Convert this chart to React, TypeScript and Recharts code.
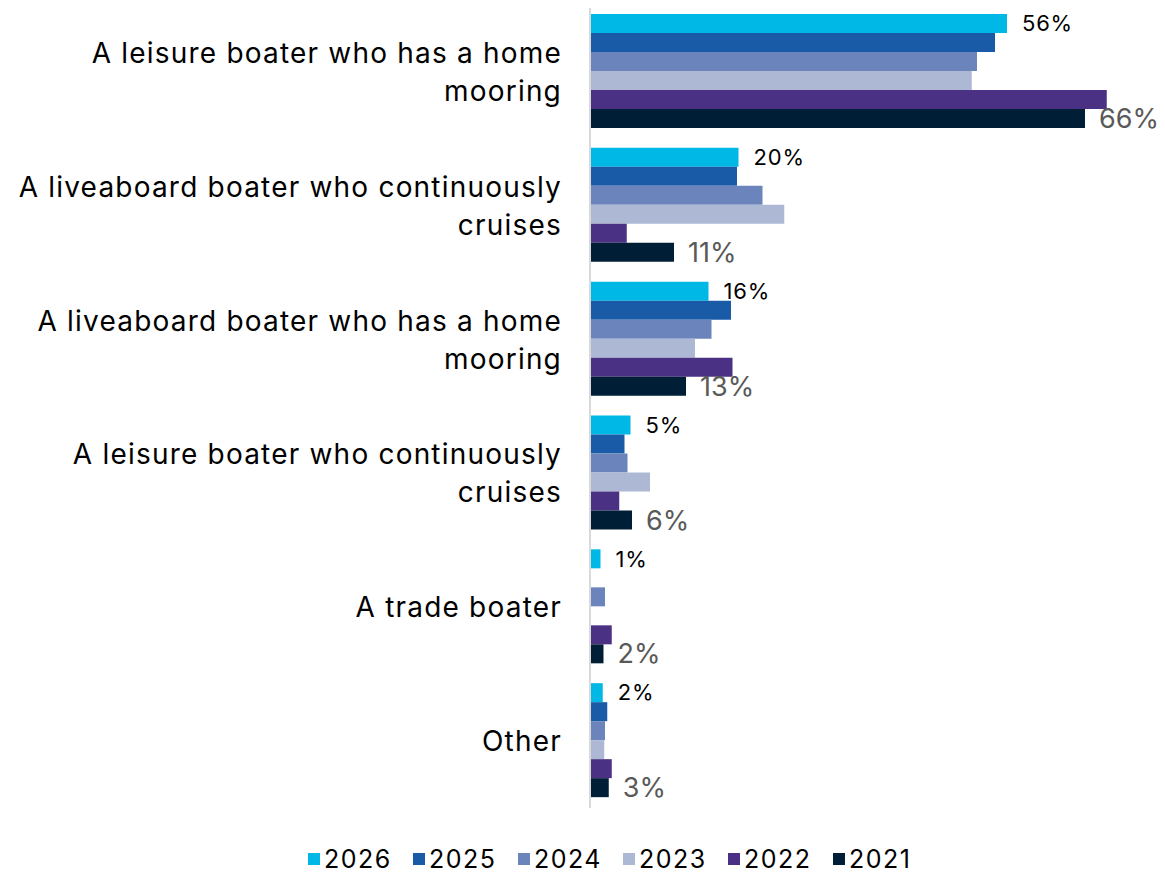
import { BarChart, Bar, XAxis, YAxis, Legend, LabelList } from 'recharts';

const categories = [
  'A leisure boater who has a home mooring',
  'A liveaboard boater who continuously cruises',
  'A liveaboard boater who has a home mooring',
  'A leisure boater who continuously cruises',
  'A trade boater',
  'Other',
];

const years = ['2026', '2025', '2024', '2023', '2022', '2021'];
const colors = ['#00B8E6', '#1A5BA8', '#6B84BB', '#ADB8D4', '#4B3183', '#001F36'];

const v2026 = [55.6, 19.8, 15.8, 5.4, 1.4, 1.7];
const v2025 = [54, 19.6, 18.8, 4.6, 0, 2.3];
const v2024 = [51.6, 23, 16.2, 5, 2, 2];
const v2023 = [50.9, 25.9, 14, 8, 0, 1.9];
const v2022 = [68.9, 4.9, 19, 3.9, 2.9, 2.9];
const v2021 = [66, 11.2, 12.8, 5.6, 1.8, 2.5];

const series = [v2026, v2025, v2024, v2023, v2022, v2021];

const data = categories.map((name, i) => {
  const row: Record<string, string | number> = { name };
  years.forEach((y, j) => {
    row[y] = series[j][i];
  });
  return row;
});

const FONT = 'Inter, sans-serif';

function wrap(text: string, max = 36) {
  const lines: string[] = [];
  let cur = '';
  for (const w of text.split(' ')) {
    const next = cur ? cur + ' ' + w : w;
    if (next.length > max && cur) {
      lines.push(cur);
      cur = w;
    } else cur = next;
  }
  if (cur) lines.push(cur);
  return lines;
}

function CategoryTick({ x, y, payload }: any) {
  const lines = wrap(payload.value);
  const lh = 38;
  const start = -((lines.length - 1) * lh) / 2;
  return (
    <text
      x={x - 28}
      y={y}
      textAnchor="end"
      fontSize={28}
      fontFamily={FONT}
      letterSpacing={1.2}
      fill="#000"
    >
      {lines.map((l, i) => (
        <tspan key={i} x={x - 28} dy={i === 0 ? start : lh} dominantBaseline="central">
          {l}
        </tspan>
      ))}
    </text>
  );
}

function LegendContent() {
  return (
    <div
      style={{
        display: 'flex',
        justifyContent: 'center',
        fontFamily: FONT,
        fontSize: 25,
        letterSpacing: 1.5,
        lineHeight: '32px',
      }}
    >
      {years.map((y, i) => (
        <div key={y} style={{ display: 'flex', alignItems: 'center', width: 105 }}>
          <span style={{ width: 12, height: 12, background: colors[i], marginRight: 4, display: 'inline-block' }} />
          <span>{y}</span>
        </div>
      ))}
    </div>
  );
}

const pct = (v: any) => `${Math.round(Number(v))}%`;

export default function App() {
  return (
    <div style={{ margin: '-8px 0 0 -8px', background: '#fff', width: 1165, height: 873 }}>
      <BarChart
        width={1165}
        height={873}
        data={data}
        layout="vertical"
        margin={{ top: 5, right: 50, bottom: 65, left: 0 }}
        barCategoryGap={9}
        barGap={0}
      >
        <XAxis type="number" domain={[0, 70]} hide />
        <YAxis
          type="category"
          dataKey="name"
          width={590}
          tick={<CategoryTick />}
          tickLine={false}
          tickSize={0}
          tickMargin={0}
          axisLine={{ stroke: '#D9D9D9', strokeWidth: 2 }}
        />
        <Legend
          verticalAlign="middle"
          align="center"
          layout="horizontal"
          content={<LegendContent />}
          wrapperStyle={{ top: 843, left: 0, width: 1246, height: 34 }}
        />
        {years.map((y, i) => (
          <Bar key={y} dataKey={y} fill={colors[i]} isAnimationActive={false}>
            {i === 0 && (
              <LabelList
                dataKey={y}
                position="right"
                offset={15}
                formatter={pct}
                style={{ fontSize: 22, fontFamily: FONT, letterSpacing: 0.8, fill: '#000' }}
              />
            )}
            {i === 5 && (
              <LabelList
                dataKey={y}
                position="right"
                offset={14}
                formatter={pct}
                style={{ fontSize: 27, fontFamily: FONT, fill: '#595959' }}
              />
            )}
          </Bar>
        ))}
      </BarChart>
    </div>
  );
}
